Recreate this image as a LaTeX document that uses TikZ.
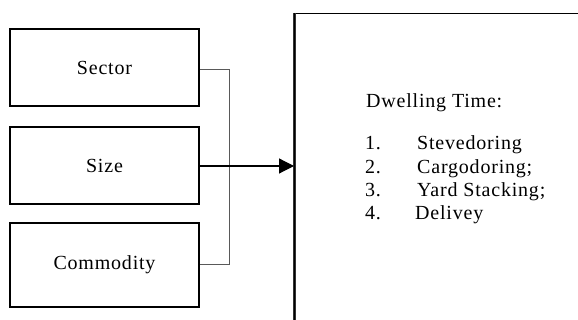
\documentclass[tikz,border=0pt]{standalone}
\usepackage{fontspec}
\setmainfont{Liberation Serif}[LetterSpace=4]
\usetikzlibrary{arrows.meta}
\begin{document}
\begin{tikzpicture}[x=1pt, y=-1pt,
    factor/.style={draw, line width=2pt, minimum width=189pt, inner sep=0pt,
                   font=\fontsize{20}{24}\selectfont},
    entry/.style={anchor=base west, inner sep=0pt, font=\fontsize{20}{24}\selectfont},
    link/.style={draw=black!65, line width=1pt},
    feed/.style={draw, line width=1.2pt, -{Triangle[length=15pt, width=15pt]}}]
  \useasboundingbox (0,0) rectangle (578,320);
  \clip (0,0) rectangle (578,320);
  \fill[white] (0,0) rectangle (578,320);

  % input factors
  \node[factor, minimum height=77pt] (sector)    at (104.5,68)  {Sector};
  \node[factor, minimum height=77pt] (size)      at (104.5,166) {Size};
  \node[factor, minimum height=84pt] (commodity) at (104.5,265) {Commodity};

  % outcome box (runs past the right and bottom edges)
  \node[draw, line width=1pt, anchor=north west, minimum width=320pt,
        minimum height=330pt, inner sep=0pt] (dwell) at (294,13) {};
  \draw[line width=3pt, black!80] (dwell.north west) -- (dwell.south west);
  \draw[line width=1pt] (dwell.north west) -- (dwell.south west);

  % contents of the outcome box
  \node[entry] (title) at (366,108) {Dwelling Time:};
  \node[entry] (n1) at (365,150)   {1.};
  \node[entry] (n2) at (365,173.3) {2.};
  \node[entry] (n3) at (365,196.6) {3.};
  \node[entry] (n4) at (365,220)   {4.};
  \node[entry] (i1) at (417,150)   {Stevedoring};
  \node[entry] (i2) at (417,173.3) {Cargodoring;};
  \node[entry] (i3) at (417,196.6) {Yard Stacking;};
  \node[entry] (i4) at (415,220)   {Delivey};

  % connectors
  \draw[link] (sector.east) ++(0,2) coordinate (s1) -- ++(29,0) |- (commodity.east);
  \draw[feed] (size.east) -- (size.east -| dwell.west);
\end{tikzpicture}
\end{document}
